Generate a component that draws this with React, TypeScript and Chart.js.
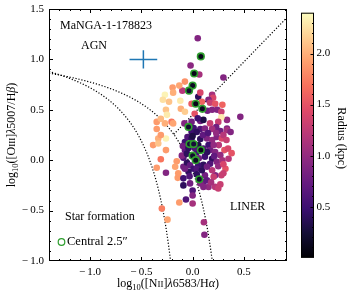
import React, { useEffect, useRef } from "react";
import { Chart, registerables } from "chart.js";
Chart.register(...registerables);

const X_MIN = -1.4, X_MAX = 0.92;
const Y_MIN = -1.0, Y_MAX = 1.5;
const X_TICKS = [-1.0, -0.5, 0.0, 0.5];
const Y_TICKS = [-1.0, -0.5, 0.0, 0.5, 1.0, 1.5];
const CBAR_TICKS = [0.5, 1.0, 1.5, 2.0];
const R_MIN = 0.0, R_MAX = 2.4;

// spaxels (coloured by radius)
const spaxelX = [0.05,-0.02,0.065,0.30,-0.10,-0.195,-0.13,-0.075,-0.27,-0.29,-0.23,-0.12,-0.19,0.055,0.075,0.19,0.20,0.155,0.17,-0.01,0.09,0.22,0.29,0.24,0.28,0.145,0.19,0.465,0.335,-0.26,-0.25,-0.115,-0.075,0.02,0.075,0.105,0.05,-0.08,-0.01,0.01,-0.35,-0.27,-0.205,-0.19,0.28,0.17,0.25,0.335,0.23,-0.335,-0.385,-0.26,-0.31,-0.335,-0.26,-0.31,-0.35,-0.26,-0.35,-0.155,-0.17,-0.145,-0.14,-0.09,-0.13,-0.065,0.0,0.0,0.0,0.105,0.22,0.25,0.28,0.22,-0.30,-0.245,0.11,0.115,-0.31,
-0.075,0.075,0.14,0.19,0.235,0.27,0.335,0.155,0.17,0.255,0.31,0.22,0.27,0.12,0.19,0.235,0.17,0.105,0.055,-0.055,-0.09,-0.105,-0.025,0.01,-0.04,-0.09,-0.09,-0.025,0.075,0.12,0.19,0.205,0.27,0.155,0.105,0.35,0.32,0.30,0.345,0.37,0.075,0.12,0.19,-0.01,-0.075,-0.055,0.04,0.055,0.105,0.04,0.09,0.14,-0.075,0.205,0.285,0.04,-0.05,-0.095,-0.01,0.0,0.1,0.15,0.23,0.3,-0.04,0.02,0.14,0.21,0.29,0.06,-0.03,0.04,0.14,0.18,0.33,0.38,0.25,0.3];
const spaxelY = [1.21,0.94,0.85,0.82,0.69,0.72,0.74,0.78,0.65,0.60,0.58,0.59,0.67,0.63,0.67,0.65,0.62,0.60,0.57,0.56,0.58,0.56,0.55,0.50,0.48,0.49,0.50,0.43,0.40,0.50,0.45,0.51,0.48,0.46,0.39,0.40,0.415,0.365,0.38,0.32,0.38,0.365,0.38,0.365,0.425,0.365,0.38,0.315,0.33,0.215,0.15,0.215,0.25,0.165,0.10,0.01,-0.075,-0.125,0.31,-0.01,-0.065,-0.175,-0.13,-0.065,-0.42,-0.39,-0.43,-0.30,-0.35,-0.215,-0.265,-0.28,-0.15,-0.15,-0.48,-0.59,-0.615,-0.74,0.41,
0.18,0.21,0.215,0.20,0.23,0.29,0.30,0.15,0.10,0.15,0.10,0.08,0.05,0.035,0.015,-0.015,-0.035,-0.045,-0.05,-0.025,0.025,0.045,-0.05,-0.085,-0.115,-0.18,-0.25,-0.23,-0.23,-0.15,-0.10,-0.165,-0.24,-0.265,-0.265,0.015,-0.085,-0.13,0.115,0.28,0.31,0.315,0.31,0.28,0.10,0.065,0.08,0.15,0.115,-0.085,-0.10,-0.065,-0.085,0.15,0.215,0.28,0.23,0.14,0.215,0.24,0.25,0.27,0.27,0.25,0.12,0.12,0.08,0.04,0.0,0.02,-0.16,-0.14,-0.2,-0.22,0.2,0.07,-0.06,-0.04];
const spaxelR = [0.9,0.95,1.1,0.9,1.2,1.9,1.95,1.85,2.35,2.25,2.1,2.3,2.0,0.4,1.4,1.1,1.4,0.9,1.3,1.55,1.6,1.5,1.6,0.9,1.3,0.8,0.9,0.9,1.0,2.1,2.3,2.0,2.15,1.5,0.8,0.3,0.5,0.9,0.8,0.5,1.9,2.0,1.7,1.95,2.3,1.3,1.3,0.9,0.8,2.0,1.9,2.35,1.9,2.1,1.9,1.7,1.9,0.9,1.9,1.9,1.95,1.9,1.9,0.8,1.9,0.6,1.1,0.6,0.9,0.7,1.2,1.3,1.3,0.9,1.75,1.95,1.1,0.9,2.05,
0.5,0.4,0.9,1.0,0.9,0.8,1.1,0.5,0.8,1.2,1.5,0.9,1.0,0.5,0.4,0.9,0.6,0.4,0.5,0.4,0.6,0.9,0.7,0.5,0.4,0.5,0.4,0.8,0.9,0.8,1.2,1.3,1.3,1.0,0.9,1.2,1.5,1.3,1.4,0.9,0.6,0.9,1.1,0.5,0.7,0.4,0.5,0.3,0.6,0.6,0.4,0.8,0.8,1.0,1.4,0.4,0.6,0.8,0.4,0.3,0.7,0.6,1.0,1.2,0.4,0.6,0.4,0.7,1.1,0.8,0.6,0.4,0.7,1.1,1.3,1.5,1.0,1.4];

// central 2.5" spaxels
const centralX = [0.08,0.015,0.0,-0.035,0.03,0.095,-0.04,-0.03,0.01,0.08,0.0,0.03,0.065];
const centralY = [1.03,0.86,0.74,0.69,0.56,0.51,0.33,0.16,0.16,0.10,0.045,0.0,-0.19];
const centralR = [0.1,0.1,0.15,0.2,0.1,0.15,0.2,0.25,0.25,0.1,0.2,0.15,0.2];

// error bar
const ERR_X = [-0.48], ERR_Y = [1.0], ERR_DX = [0.135], ERR_DY = [0.09];

const MAGMA = ["#000004","#140e36","#3b0f70","#641a80","#8c2981","#b73779","#de4968","#f7705c","#fe9f6d","#fecf92","#fcfdbf"];
const hex = (h: string) => [parseInt(h.slice(1,3),16), parseInt(h.slice(3,5),16), parseInt(h.slice(5,7),16)];
function magma(v: number) {
  let t = (v - R_MIN) / (R_MAX - R_MIN);
  t = Math.max(0, Math.min(1, t));
  const p = t * 10; const i = Math.min(9, Math.floor(p)); const f = p - i;
  const a = hex(MAGMA[i]), b = hex(MAGMA[i+1]);
  const c = a.map((x, k) => Math.round(x + (b[k]-x)*f));
  return `rgb(${c[0]},${c[1]},${c[2]})`;
}

const kauffmann = (x: number) => 0.61 / (x - 0.05) + 1.3;
const kewley = (x: number) => 0.61 / (x - 0.47) + 1.19;
const liner = (x: number) => 1.05 * x + 0.45;
function curve(f: (x:number)=>number, x0: number, x1: number) {
  const pts = [] as {x:number,y:number}[];
  const n = 200;
  for (let i = 0; i <= n; i++) { const x = x0 + (x1-x0)*i/n; pts.push({x, y: f(x)}); }
  return pts;
}

const SERIF = '"Liberation Serif", "DejaVu Serif", serif';
const fmt = (v: number) => (v < 0 ? "\u2212\u2009" : "") + Math.abs(v).toFixed(1);

function drawRich(ctx: CanvasRenderingContext2D, parts: any[], cx: number, cy: number, rot: number) {
  ctx.save();
  ctx.translate(cx, cy); ctx.rotate(rot);
  ctx.textBaseline = "alphabetic"; ctx.textAlign = "left"; ctx.fillStyle = "#000";
  let total = 0;
  for (const p of parts) { ctx.font = p.f; p.w = ctx.measureText(p.t).width; total += p.w; }
  let x = -total/2;
  for (const p of parts) { ctx.font = p.f; ctx.fillText(p.t, x, 4 + (p.dy || 0)); x += p.w; }
  ctx.restore();
}

const decor = {
  id: "decor",
  afterDraw(chart: any) {
    const ctx = chart.ctx as CanvasRenderingContext2D;
    const { left, right, top, bottom } = chart.chartArea;
    const xs = chart.scales.x, ys = chart.scales.y;
    ctx.save();
    // frame
    ctx.strokeStyle = "#000"; ctx.lineWidth = 1;
    ctx.strokeRect(left + 0.5, top + 0.5, right - left - 1, bottom - top - 1);
    // ticks
    ctx.beginPath();
    for (let v = -14; v <= 9; v++) {
      const val = v / 10; const px = Math.round(xs.getPixelForValue(val)) + 0.5;
      if (px < left + 1 || px > right - 1) continue;
      const major = v % 5 === 0; const L = major ? 4 : 2;
      ctx.moveTo(px, bottom); ctx.lineTo(px, bottom - L);
      ctx.moveTo(px, top); ctx.lineTo(px, top + L);
    }
    for (let v = -10; v <= 15; v++) {
      const val = v / 10; const py = Math.round(ys.getPixelForValue(val)) + 0.5;
      if (py < top + 1 || py > bottom - 1) continue;
      const major = v % 5 === 0; const L = major ? 4 : 2;
      ctx.moveTo(left, py); ctx.lineTo(left + L, py);
      ctx.moveTo(right, py); ctx.lineTo(right - L, py);
    }
    ctx.stroke();
    // tick labels
    ctx.fillStyle = "#000"; ctx.font = `11px ${SERIF}`;
    ctx.textAlign = "center"; ctx.textBaseline = "middle";
    for (const v of X_TICKS) ctx.fillText(fmt(v), xs.getPixelForValue(v), 272);
    ctx.textAlign = "right";
    for (const v of Y_TICKS) ctx.fillText(fmt(v), left - 5, ys.getPixelForValue(v));
    // annotations
    ctx.textAlign = "left"; ctx.font = `12px ${SERIF}`;
    ctx.fillText("MaNGA-1-178823", 60, 26);
    ctx.fillText("AGN", 81, 46);
    ctx.fillText("Star formation", 65, 217);
    ctx.fillText("LINER", 230, 207);
    ctx.font = `12.5px ${SERIF}`;
    ctx.fillText("Central 2.5\u2033", 67, 242);
    ctx.beginPath(); ctx.strokeStyle = "#2e9e2e"; ctx.lineWidth = 1.2;
    ctx.arc(61.5, 242, 3.3, 0, Math.PI*2); ctx.stroke();
    // error cross
    ctx.strokeStyle = "#1f77b4"; ctx.lineWidth = 1.5;
    for (let i = 0; i < ERR_X.length; i++) {
      const cx = xs.getPixelForValue(ERR_X[i]), cy = ys.getPixelForValue(ERR_Y[i]);
      ctx.beginPath();
      ctx.moveTo(xs.getPixelForValue(ERR_X[i]-ERR_DX[i]), cy); ctx.lineTo(xs.getPixelForValue(ERR_X[i]+ERR_DX[i]), cy);
      ctx.moveTo(cx, ys.getPixelForValue(ERR_Y[i]-ERR_DY[i])); ctx.lineTo(cx, ys.getPixelForValue(ERR_Y[i]+ERR_DY[i]));
      ctx.stroke();
    }
    // axis titles
    const big = `12px ${SERIF}`, sub = `8.5px ${SERIF}`, sc = `9px ${SERIF}`, it = `italic 12px ${SERIF}`;
    drawRich(ctx, [
      {t:"log", f:big},{t:"10", f:sub, dy:3},{t:"([N", f:big},{t:"II", f:sc},{t:"]", f:big},
      {t:"\u03bb", f:it},{t:"6583/H", f:big},{t:"\u03b1", f:it},{t:")", f:big}
    ], (left+right)/2, 283, 0);
    drawRich(ctx, [
      {t:"log", f:big},{t:"10", f:sub, dy:3},{t:"([O", f:big},{t:"III", f:sc},{t:"]", f:big},
      {t:"\u03bb", f:it},{t:"5007/H", f:big},{t:"\u03b2", f:it},{t:")", f:big}
    ], 11, (top+bottom)/2, -Math.PI/2);
    // colorbar
    const cl = 301, cr = 314, ct = 12.7, cb = 257.7;
    const g = ctx.createLinearGradient(0, cb, 0, ct);
    MAGMA.forEach((c, i) => g.addColorStop(i/10, c));
    ctx.fillStyle = g; ctx.fillRect(cl, ct, cr-cl, cb-ct);
    ctx.strokeStyle = "#000"; ctx.lineWidth = 1;
    ctx.strokeRect(cl + 0.5, ct + 0.5, cr-cl-1, cb-ct-1);
    const cy = (v: number) => cb - (v - R_MIN)/(R_MAX - R_MIN)*(cb-ct);
    ctx.beginPath();
    for (let v = 1; v <= 24; v++) {
      const y = Math.round(cy(v/10)) + 0.5; const L = v % 5 === 0 ? 3.5 : 2;
      if (y < ct + 1) continue;
      ctx.moveTo(cr, y); ctx.lineTo(cr - L, y);
    }
    ctx.stroke();
    ctx.fillStyle = "#000"; ctx.font = `11px ${SERIF}`; ctx.textAlign = "left"; ctx.textBaseline = "middle";
    for (const v of CBAR_TICKS) ctx.fillText(v.toFixed(1), 316.5, cy(v));
    ctx.save(); ctx.translate(341.5, (ct+cb)/2 + 3); ctx.rotate(Math.PI/2);
    ctx.textAlign = "center"; ctx.textBaseline = "middle"; ctx.font = `12px ${SERIF}`;
    ctx.fillText("Radius (kpc)", 0, 0);
    ctx.restore();
    ctx.restore();
  }
};

export default function App() {
  const ref = useRef<HTMLCanvasElement>(null);
  useEffect(() => {
    const kewX1 = 0.47 - 0.61/2.19;
    const kaufX1 = 0.05 - 0.61/2.3;
    const chart = new Chart(ref.current!, {
      type: "scatter",
      data: {
        datasets: [
          { data: centralX.map((x,i)=>({x, y: centralY[i]})), pointRadius: 3.3, pointBorderWidth: 1.6,
            pointBorderColor: "#2e9e2e", pointBackgroundColor: centralR.map(magma), order: 1 } as any,
          { data: spaxelX.map((x,i)=>({x, y: spaxelY[i]})), pointRadius: 3.3, pointBorderWidth: 0,
            pointBackgroundColor: spaxelR.map(magma), order: 2 } as any,
          { data: curve(kauffmann, X_MIN, kaufX1), showLine: true, pointRadius: 0, borderColor: "#000",
            borderWidth: 1.2, borderDash: [1.2, 1.8], order: 3 } as any,
          { data: curve(kewley, X_MIN, kewX1), showLine: true, pointRadius: 0, borderColor: "#000",
            borderWidth: 1.2, borderDash: [1.2, 1.8], order: 3 } as any,
          { data: curve(liner, -0.184, X_MAX), showLine: true, pointRadius: 0, borderColor: "#000",
            borderWidth: 1.2, borderDash: [1.2, 1.8], order: 3 } as any,
        ]
      },
      options: {
        animation: false, responsive: false, devicePixelRatio: 1,
        layout: { padding: { left: 49, right: 62, top: 9, bottom: 38 } },
        scales: {
          x: { type: "linear", min: X_MIN, max: X_MAX, display: false },
          y: { type: "linear", min: Y_MIN, max: Y_MAX, display: false },
        },
        plugins: { legend: { display: false }, tooltip: { enabled: false } },
        events: [],
      },
      plugins: [decor],
    });
    return () => chart.destroy();
  }, []);
  return (
    <div style={{ position: "absolute", left: 0, top: 0, width: 349, height: 299, background: "#fff" }}>
      <canvas ref={ref} width={349} height={299} style={{ width: 349, height: 299 }} />
    </div>
  );
}
